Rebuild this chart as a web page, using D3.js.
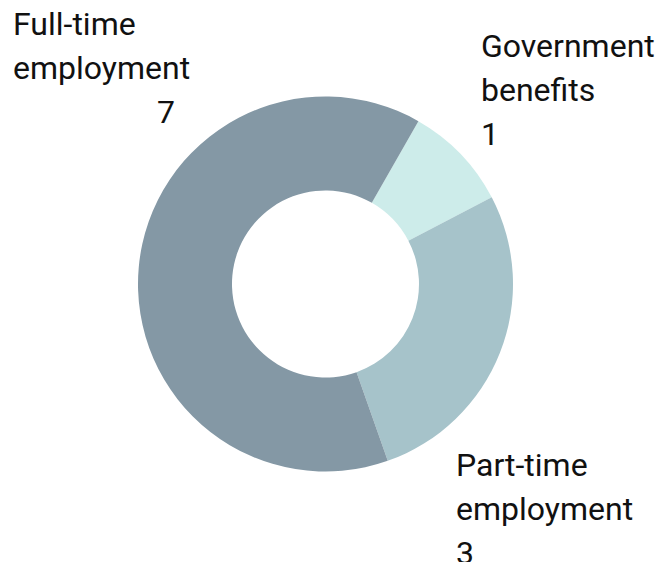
<!DOCTYPE html>
<html>
<head>
<meta charset="utf-8">
<script src="https://cdn.jsdelivr.net/npm/d3@7"></script>
<style>
  html, body { margin: 0; padding: 0; background: #fff; }
  text { font-family: Roboto, sans-serif; fill: #111; }
</style>
</head>
<body>
<div id="chart"></div>
<script>
const categories = ["Government benefits", "Part-time employment", "Full-time employment"];
const values = [1, 3, 7];
const colors = ["#cdecea", "#a6c3ca", "#8498a5"];

const width = 672,
  height = 562,
  cx = 325.5,
  cy = 284,
  outerR = 187.5,
  innerR = 93.5,
  startDeg = 29.7;

// label placement (left x of the name lines, first baseline, x of the value)
const labelPos = {
  "Government benefits": { x: 481, y: 57, vx: 481, anchor: "start" },
  "Part-time employment": { x: 456, y: 476, vx: 456, anchor: "start" },
  "Full-time employment": { x: 13, y: 35, vx: 175, anchor: "end" },
};

const svg = d3
  .select("#chart")
  .append("svg")
  .attr("width", width)
  .attr("height", height);

const data = categories.map((c, i) => ({ name: c, value: values[i], color: colors[i] }));

const start = (startDeg * Math.PI) / 180;
const pie = d3
  .pie()
  .sort(null)
  .value((d) => d.value)
  .startAngle(start)
  .endAngle(start + 2 * Math.PI);

const arc = d3.arc().innerRadius(innerR).outerRadius(outerR);

const g = svg.append("g").attr("transform", `translate(${cx},${cy})`);

g.selectAll("path")
  .data(pie(data))
  .join("path")
  .attr("d", arc)
  .attr("fill", (d) => d.data.color);

const lineH = 44;

const labels = svg
  .selectAll(".label")
  .data(data)
  .join("text")
  .attr("class", "label")
  .style("font-size", "32px");

labels.each(function (d) {
  const p = labelPos[d.name];
  const t = d3.select(this);
  const words = d.name.split(" ");
  words.forEach((w, i) => {
    t.append("tspan").attr("x", p.x).attr("y", p.y + i * lineH).text(w);
  });
  t.append("tspan")
    .attr("x", p.vx)
    .attr("y", p.y + words.length * lineH)
    .attr("text-anchor", p.anchor)
    .text(d.value);
});
</script>
</body>
</html>
